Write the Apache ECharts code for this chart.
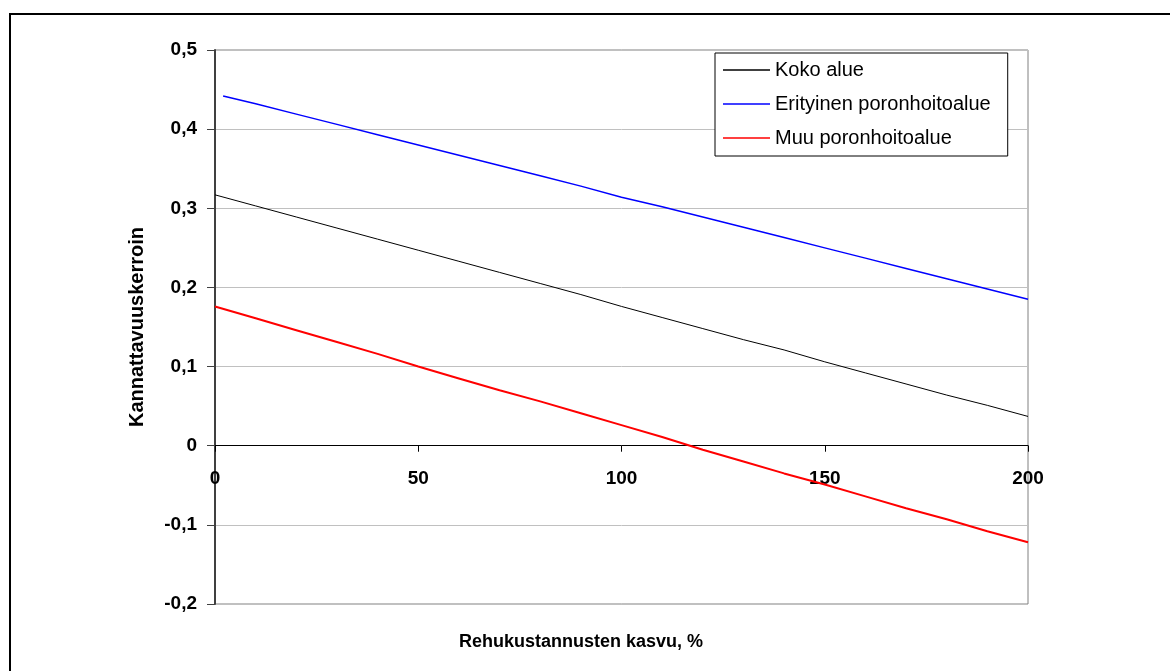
<!DOCTYPE html>
<html>
<head>
<meta charset="utf-8">
<script src="https://cdn.jsdelivr.net/npm/echarts@6/dist/echarts.min.js"></script>
<style>
  html, body { margin: 0; padding: 0; background: #fff; }
  #chart { width: 1170px; height: 671px; }
</style>
</head>
<body>
<div id="chart"></div>
<script>
// rehukustannusten kasvu, %
var xKoko = [0, 10, 20, 30, 40, 50, 60, 70, 80, 90, 100, 110, 120, 130, 140, 150, 160, 170, 180, 190, 200];
var koko = [0.317, 0.303, 0.289, 0.275, 0.261, 0.247, 0.233, 0.219, 0.205, 0.191, 0.176, 0.162, 0.148, 0.134, 0.121, 0.106, 0.092, 0.078, 0.064, 0.051, 0.037];
var xErit = [2, 10, 20, 30, 40, 50, 60, 70, 80, 90, 100, 110, 120, 130, 140, 150, 160, 170, 180, 190, 200];
var erityinen = [0.442, 0.432, 0.419, 0.406, 0.393, 0.380, 0.367, 0.354, 0.341, 0.328, 0.314, 0.302, 0.289, 0.276, 0.263, 0.250, 0.237, 0.224, 0.211, 0.198, 0.185];
var xMuu = [0, 10, 20, 30, 40, 50, 60, 70, 80, 90, 100, 110, 120, 130, 140, 150, 160, 170, 180, 190, 200];
var muu = [0.176, 0.161, 0.146, 0.131, 0.116, 0.100, 0.085, 0.070, 0.056, 0.041, 0.026, 0.011, -0.005, -0.020, -0.035, -0.049, -0.064, -0.079, -0.093, -0.108, -0.122];
var seriesNames = ['Koko alue', 'Erityinen poronhoitoalue', 'Muu poronhoitoalue'];

function pairs(xs, ys) {
    var out = [];
    for (var i = 0; i < xs.length; i++) out.push([xs[i], ys[i]]);
    return out;
}

var font = '"Liberation Sans", Arial, sans-serif';
var myChart = echarts.init(document.getElementById('chart'));
var option = {
    backgroundColor: '#fff',
    animation: false,
    grid: {
        left: 215,
        right: 142,
        top: 50,
        bottom: 67,
        show: true,
        borderColor: '#808080',
        borderWidth: 1
    },
    legend: {
        orient: 'vertical',
        left: 715,
        top: 53,
        padding: [7, 17, 8, 8],
        icon: 'rect',
        itemWidth: 47,
        itemHeight: 1.5,
        itemGap: 14,
        backgroundColor: '#fff',
        borderColor: '#000',
        borderWidth: 1,
        borderRadius: 0,
        textStyle: { fontFamily: font, fontSize: 20, color: '#000' },
        data: seriesNames
    },
    graphic: [{
        type: 'rect',
        shape: { x: 10, y: 14, width: 1200, height: 700 },
        style: { fill: 'none', stroke: '#000', lineWidth: 2 },
        silent: true
    }, {
        type: 'text',
        x: 581,
        y: 642,
        style: {
            text: 'Rehukustannusten kasvu, %',
            font: 'bold 18px ' + font,
            fill: '#000',
            textAlign: 'center',
            textVerticalAlign: 'middle'
        }
    }],
    xAxis: {
        type: 'value',
        min: 0,
        max: 200,
        interval: 50,
        axisLine: { onZero: true, lineStyle: { color: '#000', width: 1 } },
        axisTick: { show: true, length: 6, lineStyle: { color: '#000' } },
        axisLabel: {
            margin: -135,
            fontFamily: font,
            fontSize: 19,
            fontWeight: 'bold',
            color: '#000'
        },
        splitLine: { show: false }
    },
    yAxis: {
        type: 'value',
        min: -0.2,
        max: 0.5,
        interval: 0.1,
        name: 'Kannattavuuskerroin',
        nameLocation: 'middle',
        nameGap: 68,
        nameTextStyle: { fontFamily: font, fontSize: 20, fontWeight: 'bold', color: '#000' },
        axisLine: { show: true, lineStyle: { color: '#404040', width: 2 } },
        axisTick: { show: true, length: 8, lineStyle: { color: '#404040' } },
        axisLabel: {
            margin: 18,
            fontFamily: font,
            fontSize: 19,
            fontWeight: 'bold',
            color: '#000',
            formatter: function (v) {
                if (Math.abs(v) < 1e-9) return '0';
                return v.toFixed(1).replace('.', ',');
            }
        },
        splitLine: { show: true, lineStyle: { color: '#c0c0c0', width: 1 } }
    },
    series: [{
        name: seriesNames[0],
        type: 'line',
        symbol: 'none',
        data: pairs(xKoko, koko),
        lineStyle: { color: '#000', width: 1 },
        itemStyle: { color: '#000' },
        z: 3
    }, {
        name: seriesNames[1],
        type: 'line',
        symbol: 'none',
        data: pairs(xErit, erityinen),
        lineStyle: { color: '#0000ff', width: 1.5 },
        itemStyle: { color: '#0000ff' },
        z: 3
    }, {
        name: seriesNames[2],
        type: 'line',
        symbol: 'none',
        data: pairs(xMuu, muu),
        lineStyle: { color: '#ff0000', width: 2 },
        itemStyle: { color: '#ff0000' },
        z: 3
    }]
};
myChart.setOption(option);
</script>
</body>
</html>
